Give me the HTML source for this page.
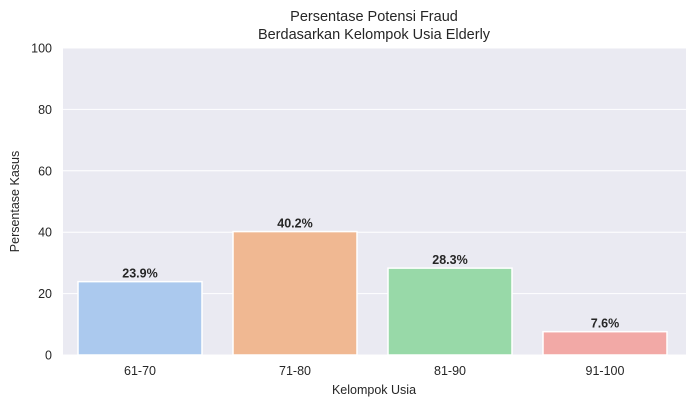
<!DOCTYPE html>
<html><head><meta charset="utf-8"><style>
body{margin:0;background:#fff;font-family:"Liberation Sans",sans-serif}
</style></head><body>
<svg width="692" height="409" xmlns="http://www.w3.org/2000/svg">
<g id="root"></g>
</svg>
<script>
const categories=["61-70","71-80","81-90","91-100"];
const values=[23.9,40.2,28.3,7.6];
const labels=["23.9%","40.2%","28.3%","7.6%"];
const yTicks=[0,20,40,60,80,100];
const colors=["#abc9ee","#f0b892","#98d9a8","#f2a9a6"];
const L=63,R=686,T=48,B=355;
const y=v=>B-(v/100)*(B-T);
const step=155;
const x=i=>62.5+step*i+step/2;
const ns="http://www.w3.org/2000/svg";
const root=document.getElementById('root');
function mk(tag,attrs,parent,text){const e=document.createElementNS(ns,tag);for(const k in attrs)e.setAttribute(k,attrs[k]);if(text!==undefined)e.textContent=text;(parent||root).appendChild(e);return e;}
const bg=mk('rect',{x:L,y:T,width:R-L,height:B-T,fill:'#eaeaf2'});


yTicks.forEach(t=>{
 const g=mk('line',{x1:L,x2:R,y1:y(t),y2:y(t),stroke:'#fff','stroke-width':1});
 
 
 const tl=mk('text',{x:L-11,y:y(t)+4.5,'text-anchor':'end','font-size':12.5,fill:'#262626'},root,String(t));
 
 
});
const bw=step*0.8;
categories.forEach((c,i)=>{
 const r=mk('rect',{x:x(i)-bw/2,y:y(values[i]),width:bw,height:B-y(values[i]),fill:colors[i],stroke:'#fff','stroke-width':1.5});
 
 
 const v=mk('text',{x:x(i),y:y(values[i])-4,'text-anchor':'middle','font-size':12.5,'font-weight':'bold',fill:'#262626'},root,labels[i]);
 
 
 const xl=mk('text',{x:x(i),y:B+20,'text-anchor':'middle','font-size':12.5,fill:'#262626'},root,c);
 
 
});
const t1=mk('text',{x:374,y:21,'text-anchor':'middle','font-size':14.5,fill:'#262626'},root,'Persentase Potensi Fraud');


const t2=mk('text',{x:374,y:39,'text-anchor':'middle','font-size':14.5,fill:'#262626'},root,'Berdasarkan Kelompok Usia Elderly');


const xt=mk('text',{x:374,y:394,'text-anchor':'middle','font-size':12.5,fill:'#262626'},root,'Kelompok Usia');


const yt=mk('text',{x:0,y:0,'text-anchor':'middle','font-size':12.5,fill:'#262626',transform:'translate(19,'+((T+B)/2)+') rotate(-90)'},root,'Persentase Kasus');


</script>
</body></html>
